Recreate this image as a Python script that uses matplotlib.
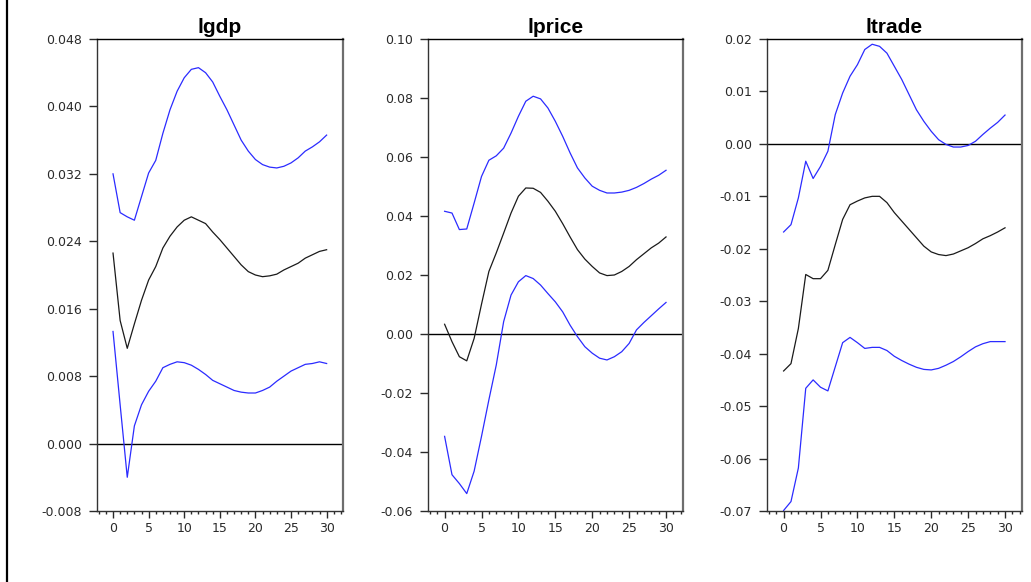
from __future__ import annotations

import matplotlib

matplotlib.use("Agg")
import matplotlib.pyplot as plt
import numpy as np
from matplotlib.lines import Line2D
from matplotlib.ticker import FixedLocator, MultipleLocator

# Impulse responses with +/- 2 s.e. bands, horizon 0..30
HORIZON = list(range(31))

LGDP_UPPER = [
    0.0320, 0.0274, 0.0269, 0.0265, 0.0293, 0.0321, 0.0336, 0.0368, 0.0396, 0.0418,
    0.0434, 0.0444, 0.0446, 0.0440, 0.0429, 0.0412, 0.0396, 0.0378, 0.0360, 0.0347,
    0.0337, 0.0331, 0.0328, 0.0327, 0.0329, 0.0333, 0.0339, 0.0347, 0.0352, 0.0358,
    0.0366,
]
LGDP_MID = [
    0.0226, 0.0146, 0.0113, 0.0142, 0.0170, 0.0194, 0.0210, 0.0232, 0.0246, 0.0257,
    0.0265, 0.0269, 0.0265, 0.0261, 0.0251, 0.0242, 0.0232, 0.0222, 0.0212, 0.0204,
    0.0200, 0.0198, 0.0199, 0.0201, 0.0206, 0.0210, 0.0214, 0.0220, 0.0224, 0.0228,
    0.0230,
]
LGDP_LOWER = [
    0.0133, 0.0046, -0.0040, 0.0021, 0.0046, 0.0062, 0.0074, 0.0090, 0.0094, 0.0097,
    0.0096, 0.0093, 0.0088, 0.0082, 0.0075, 0.0071, 0.0067, 0.0063, 0.0061, 0.0060,
    0.0060, 0.0063, 0.0067, 0.0074, 0.0080, 0.0086, 0.0090, 0.0094, 0.0095, 0.0097,
    0.0095,
]

LPRICE_UPPER = [
    0.0416, 0.0410, 0.0354, 0.0356, 0.0444, 0.0534, 0.0589, 0.0604, 0.0630, 0.0681,
    0.0738, 0.0789, 0.0806, 0.0797, 0.0766, 0.0721, 0.0670, 0.0614, 0.0563, 0.0529,
    0.0501, 0.0487, 0.0478, 0.0478, 0.0481, 0.0487, 0.0497, 0.0510, 0.0525, 0.0538,
    0.0555,
]
LPRICE_MID = [
    0.0033, -0.0026, -0.0077, -0.0091, -0.0015, 0.0101, 0.0212, 0.0275, 0.0342, 0.0410,
    0.0467, 0.0495, 0.0494, 0.0480, 0.0450, 0.0416, 0.0374, 0.0329, 0.0286, 0.0254,
    0.0229, 0.0207, 0.0198, 0.0200, 0.0212, 0.0229, 0.0252, 0.0272, 0.0292, 0.0308,
    0.0329,
]
LPRICE_LOWER = [
    -0.0347, -0.0477, -0.0507, -0.0541, -0.0465, -0.0347, -0.0223, -0.0105, 0.0042, 0.0132,
    0.0177, 0.0198, 0.0188, 0.0166, 0.0137, 0.0109, 0.0075, 0.0030, -0.0009, -0.0043,
    -0.0065, -0.0082, -0.0088, -0.0077, -0.0060, -0.0032, 0.0014, 0.0039, 0.0062, 0.0085,
    0.0107,
]

LTRADE_UPPER = [
    -0.0168, -0.0154, -0.0103, -0.0033, -0.0066, -0.0043, -0.0014, 0.0056, 0.0097, 0.0129,
    0.0151, 0.0180, 0.0190, 0.0186, 0.0173, 0.0148, 0.0123, 0.0094, 0.0065, 0.0043,
    0.0024, 0.0008, -0.0001, -0.0006, -0.0006, -0.0003, 0.0005, 0.0018, 0.0030, 0.0041,
    0.0055,
]
LTRADE_MID = [
    -0.0433, -0.0419, -0.0352, -0.0249, -0.0257, -0.0257, -0.0241, -0.0192, -0.0144, -0.0116,
    -0.0109, -0.0103, -0.0100, -0.0100, -0.0112, -0.0131, -0.0147, -0.0163, -0.0179, -0.0195,
    -0.0206, -0.0211, -0.0213, -0.0210, -0.0204, -0.0198, -0.0190, -0.0181, -0.0175, -0.0168,
    -0.0160,
]
LTRADE_LOWER = [
    -0.0699, -0.0682, -0.0618, -0.0466, -0.0450, -0.0464, -0.0471, -0.0425, -0.0379, -0.0369,
    -0.0379, -0.0390, -0.0388, -0.0388, -0.0394, -0.0405, -0.0413, -0.0420, -0.0426, -0.0430,
    -0.0431, -0.0428, -0.0422, -0.0415, -0.0406, -0.0396, -0.0387, -0.0381, -0.0377, -0.0377,
    -0.0377,
]

PANEL_TITLES = ["lgdp", "lprice", "ltrade"]
LGDP_YTICKS = [-0.008, 0.000, 0.008, 0.016, 0.024, 0.032, 0.040, 0.048]
LPRICE_YTICKS = [-0.06, -0.04, -0.02, 0.00, 0.02, 0.04, 0.06, 0.08, 0.10]
LTRADE_YTICKS = [-0.07, -0.06, -0.05, -0.04, -0.03, -0.02, -0.01, 0.00, 0.01, 0.02]
YTICK_FORMATS = ["{:.3f}", "{:.2f}", "{:.2f}"]
XTICKS = [0, 5, 10, 15, 20, 25, 30]

OUT_PATH = "out.png"
W_PX, H_PX = 1031, 582
BAND_COLOR = "#2b2bff"
MID_COLOR = "#1a1a1a"
TICK_COLOR = "#2a2a2a"

# axes frames in pixels: (left, right)
PANEL_X = [(97, 343), (428, 683), (767, 1022)]
PANEL_TOP, PANEL_BOTTOM = 39, 511


def style_axes(ax, yticks, fmt) -> None:
    ax.set_xlim(-2.25, 32.3)
    ax.set_ylim(yticks[0], yticks[-1])
    ax.xaxis.set_major_locator(FixedLocator(XTICKS))
    ax.xaxis.set_minor_locator(MultipleLocator(1))
    ax.yaxis.set_major_locator(FixedLocator(yticks))
    ax.set_yticklabels([fmt.format(v) for v in yticks])

    ax.tick_params(axis="x", which="major", direction="out", length=4.8, width=1,
                   pad=3, labelsize=9, colors=TICK_COLOR)
    ax.tick_params(axis="x", which="minor", direction="out", length=2.4, width=1,
                   colors=TICK_COLOR)
    ax.tick_params(axis="y", which="major", direction="out", length=5.8, width=1,
                   pad=5, labelsize=9, colors=TICK_COLOR)
    ax.tick_params(top=False, right=False)

    ax.spines["top"].set_color("black")
    ax.spines["top"].set_linewidth(1.0)
    ax.spines["right"].set_color("#6e6e6e")
    ax.spines["right"].set_linewidth(1.6)
    ax.spines["left"].set_color("#333333")
    ax.spines["left"].set_linewidth(1.0)
    ax.spines["bottom"].set_color("#333333")
    ax.spines["bottom"].set_linewidth(1.0)


def main() -> None:
    plt.rcParams["font.family"] = ["DejaVu Sans"]
    fig = plt.figure(figsize=(W_PX / 100, H_PX / 100), dpi=100)

    panels = [
        (LGDP_UPPER, LGDP_MID, LGDP_LOWER, LGDP_YTICKS),
        (LPRICE_UPPER, LPRICE_MID, LPRICE_LOWER, LPRICE_YTICKS),
        (LTRADE_UPPER, LTRADE_MID, LTRADE_LOWER, LTRADE_YTICKS),
    ]
    x = np.array(HORIZON)

    for i, (upper, mid, lower, yticks) in enumerate(panels):
        left, right = PANEL_X[i]
        rect = [left / W_PX, 1 - PANEL_BOTTOM / H_PX,
                (right - left) / W_PX, (PANEL_BOTTOM - PANEL_TOP) / H_PX]
        ax = fig.add_axes(rect)
        ax.axhline(0, color="black", linewidth=1.0, zorder=1)
        ax.plot(x, upper, color=BAND_COLOR, linewidth=0.9, zorder=2)
        ax.plot(x, lower, color=BAND_COLOR, linewidth=0.9, zorder=2)
        ax.plot(x, mid, color=MID_COLOR, linewidth=0.9, zorder=2)
        style_axes(ax, yticks, YTICK_FORMATS[i])
        ax.set_title(PANEL_TITLES[i], family=["Liberation Sans", "DejaVu Sans"],
                     fontsize=15, fontweight="bold", pad=4)

    # left frame line of the graph window
    fig.add_artist(Line2D([6.5 / W_PX, 6.5 / W_PX], [0, 1], color="black",
                          linewidth=1.6, transform=fig.transFigure))

    fig.savefig(OUT_PATH, dpi=100)
    plt.close(fig)


if __name__ == "__main__":
    main()
